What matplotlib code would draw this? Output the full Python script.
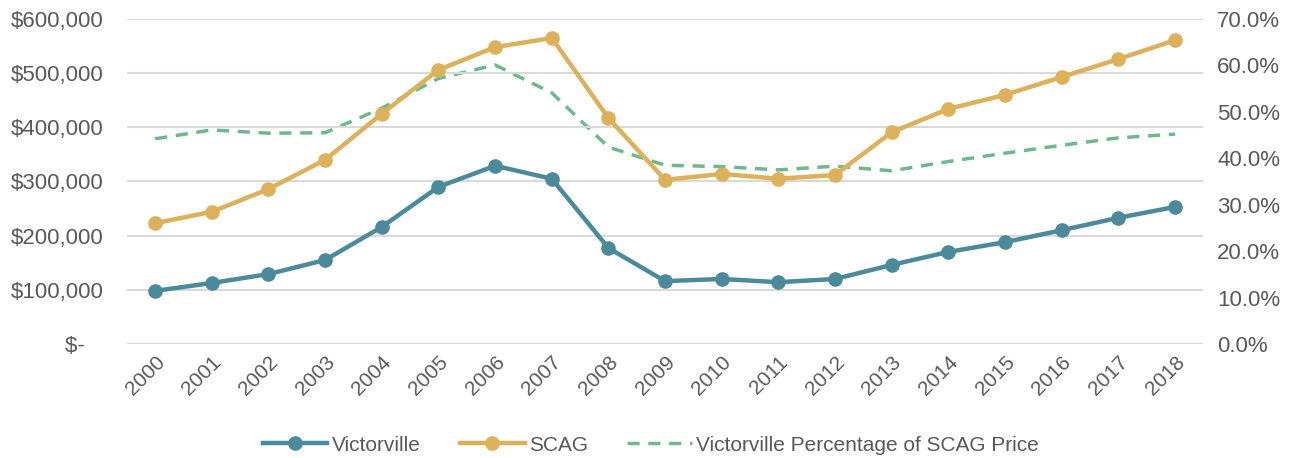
import matplotlib.pyplot as plt
from matplotlib.ticker import FuncFormatter, MultipleLocator

plt.rcParams['font.family'] = ['Liberation Sans', 'DejaVu Sans']

years = [str(y) for y in range(2000, 2019)]
victorville = [98000, 112600, 129000, 155000, 216000, 290000, 329000, 305000, 177000,
               116000, 120000, 114000, 120000, 146000, 170000, 188000, 210000, 233000, 253000]
scag = [223000, 244000, 286000, 340000, 425000, 506000, 548000, 565000, 417000,
        303000, 314000, 305000, 312000, 391000, 434000, 460000, 493000, 526000, 561000]
pct_of_scag = [44.2, 46.1, 45.4, 45.5, 50.8, 57.2, 60.1, 54.1, 42.4,
               38.5, 38.2, 37.5, 38.3, 37.3, 39.3, 41.1, 42.8, 44.4, 45.2]

teal = '#4A8A9A'
gold = '#DDB05A'
green = '#6DB88C'
txt = '#595959'

fig = plt.figure(figsize=(12.94, 4.58), dpi=100)
ax = fig.add_axes([0.098, 0.249, 0.832, 0.7095])
ax2 = ax.twinx()

x = range(len(years))
l1, = ax.plot(x, victorville, color=teal, lw=3.2, marker='o', ms=9.5, label='Victorville', zorder=3)
l2, = ax.plot(x, scag, color=gold, lw=3.2, marker='o', ms=9.5, label='SCAG', zorder=3)
l3, = ax2.plot(x, pct_of_scag, color=green, lw=2.5, ls=(0, (3.5, 2.5)),
               label='Victorville Percentage of SCAG Price')

ax.set_xlim(-0.5, len(years) - 0.5)
ax.set_ylim(0, 600000)
ax2.set_ylim(0, 70)
ax.yaxis.set_major_locator(MultipleLocator(100000))
ax2.yaxis.set_major_locator(MultipleLocator(10))
ax.yaxis.set_major_formatter(FuncFormatter(lambda v, p: '$-   ' if v == 0 else f'${v:,.0f}'))
ax2.yaxis.set_major_formatter(FuncFormatter(lambda v, p: f'{v:.1f}%'))

ax.set_xticks(list(x))
ax.set_xticklabels(years, rotation=45, ha='right', rotation_mode='anchor')
ax.grid(axis='y', color='#D9D9D9', lw=1.5)
ax.set_axisbelow(True)
for a in (ax, ax2):
    for s in a.spines.values():
        s.set_visible(False)
    a.tick_params(length=0, labelsize=16, colors=txt)
ax.tick_params(axis='x', labelsize=15, pad=6)
ax.tick_params(axis='y', pad=17)
ax2.tick_params(axis='y', pad=10)
ax.set_zorder(ax2.get_zorder() + 1)
ax.patch.set_visible(False)

fig.legend(handles=[l1, l2, l3], loc='center', bbox_to_anchor=(0.503, 0.028), ncol=3,
           frameon=False, fontsize=15, labelcolor=txt, handlelength=3.1,
           columnspacing=1.9, handletextpad=0.2)

fig.savefig('out.png', dpi=100)
